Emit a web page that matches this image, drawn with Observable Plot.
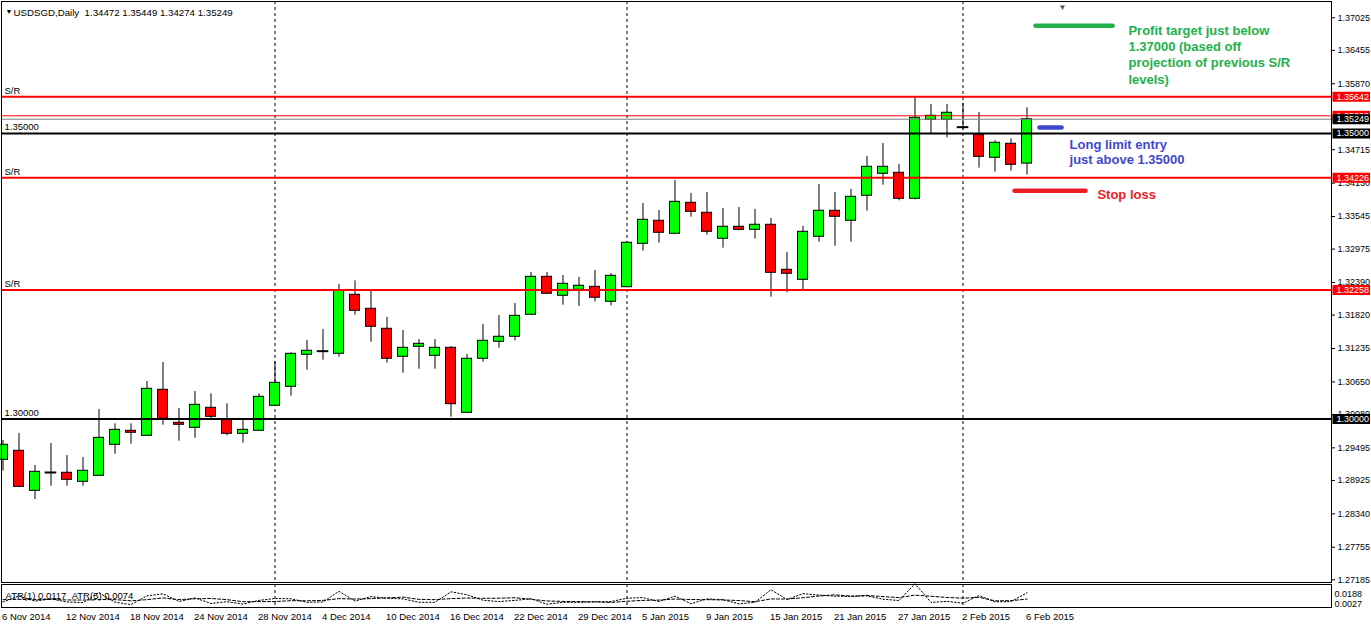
<!DOCTYPE html>
<html><head><meta charset="utf-8">
<script src="https://cdn.jsdelivr.net/npm/d3@7"></script>
<script src="https://cdn.jsdelivr.net/npm/@observablehq/plot@0.6"></script>
<style>
html,body{margin:0;padding:0;background:#fff;}
#wrap{position:relative;width:1371px;height:626px;overflow:hidden;background:#fff;}
#main{position:absolute;left:0;top:0;}
#atr{position:absolute;left:0;top:583px;}
svg{font-family:"Liberation Sans",Arial,sans-serif;}
</style></head><body><div id="wrap"><div id="main"></div><div id="atr"></div></div>
<script>
// ---- data (USDSGD daily, 6 Nov 2014 - 6 Feb 2015) ----
const opens = [1.29286,1.29444,1.28743,1.29064,1.29059,1.28901,1.29006,1.29549,1.29794,1.29706,
1.30512,1.29934,1.29846,1.30197,1.29987,1.29741,1.29794,1.30232,1.30564,1.31125,
1.31188,1.31142,1.32175,1.31930,1.31580,1.31090,1.31265,1.31107,1.31247,1.30109,
1.31055,1.31352,1.31440,1.31825,1.32490,1.32158,1.32263,1.32315,1.32053,1.32308,
1.33068,1.33471,1.33243,1.33786,1.33611,1.33156,1.33366,1.33313,1.33401,1.32613,
1.32438,1.33191,1.33646,1.33471,1.33909,1.34294,1.34311,1.33856,1.35239,1.35239,
1.35110,1.34977,1.34574,1.34819,1.34472];
const highs = [1.29624,1.29747,1.29186,1.29572,1.29361,1.29326,1.30167,1.29916,1.29916,1.30657,
1.30990,1.30184,1.30482,1.30442,1.30267,1.29980,1.30442,1.31007,1.31160,1.31375,
1.31568,1.32355,1.32420,1.32250,1.31778,1.31550,1.31392,1.31392,1.31270,1.31130,
1.31655,1.31813,1.32023,1.32566,1.32566,1.32513,1.32478,1.32601,1.32548,1.33103,
1.33774,1.33651,1.34176,1.33949,1.33966,1.33686,1.33704,1.33669,1.33511,1.32916,
1.33371,1.34106,1.33966,1.34019,1.34597,1.34824,1.34457,1.35624,1.35507,1.35507,
1.35525,1.35367,1.34872,1.34907,1.35449];
const lows = [1.29087,1.28800,1.28591,1.28824,1.28824,1.28824,1.29000,1.29384,1.29559,1.29700,
1.29892,1.29612,1.29664,1.30004,1.29706,1.29577,1.29790,1.30225,1.30400,1.30855,
1.31030,1.31083,1.31818,1.31345,1.30978,1.30802,1.30872,1.30872,1.30032,1.30100,
1.30995,1.31240,1.31370,1.31820,1.32180,1.31993,1.31970,1.32053,1.31983,1.32300,
1.32939,1.33079,1.33235,1.33534,1.33219,1.32991,1.33296,1.33149,1.32133,1.32210,
1.32263,1.33096,1.33026,1.33096,1.33639,1.34094,1.33821,1.33838,1.34994,1.34924,
1.35064,1.34392,1.34322,1.34339,1.34274];
const closes = [1.29549,1.28813,1.29076,1.29064,1.28936,1.29094,1.29671,1.29811,1.29759,1.30529,
1.30004,1.29899,1.30249,1.30039,1.29741,1.29811,1.30389,1.30634,1.31142,1.31195,
1.31188,1.32250,1.31895,1.31615,1.31055,1.31247,1.31317,1.31247,1.30260,1.31055,
1.31370,1.31440,1.31807,1.32490,1.32193,1.32368,1.32333,1.32123,1.32508,1.33086,
1.33488,1.33261,1.33803,1.33628,1.33278,1.33366,1.33313,1.33401,1.32560,1.32543,
1.33278,1.33646,1.33541,1.33891,1.34416,1.34416,1.33856,1.35274,1.35309,1.35362,
1.35110,1.34591,1.34837,1.34451,1.35249];
const atr1 = [0.0054,0.0095,0.0060,0.0075,0.0054,0.0050,0.0117,0.0053,0.0036,0.0096,
0.0110,0.0057,0.0082,0.0044,0.0056,0.0040,0.0065,0.0078,0.0076,0.0052,
0.0054,0.0127,0.0060,0.0091,0.0080,0.0075,0.0052,0.0052,0.0124,0.0103,
0.0066,0.0057,0.0065,0.0076,0.0039,0.0052,0.0051,0.0055,0.0057,0.0080,
0.0084,0.0057,0.0094,0.0042,0.0075,0.0070,0.0041,0.0052,0.0138,0.0071,
0.0111,0.0101,0.0094,0.0092,0.0096,0.0073,0.0064,0.0179,0.0051,0.0058,
0.0046,0.0098,0.0055,0.0057,0.0117];
const atr5 = [0.0070,0.0072,0.0070,0.0072,0.0068,0.0067,0.0071,0.0070,0.0062,0.0070,
0.0082,0.0070,0.0076,0.0078,0.0070,0.0056,0.0057,0.0057,0.0063,0.0062,
0.0065,0.0077,0.0074,0.0077,0.0082,0.0087,0.0072,0.0070,0.0077,0.0081,
0.0079,0.0080,0.0083,0.0073,0.0061,0.0058,0.0057,0.0055,0.0051,0.0059,
0.0065,0.0067,0.0074,0.0071,0.0070,0.0068,0.0064,0.0056,0.0075,0.0074,
0.0083,0.0095,0.0103,0.0094,0.0099,0.0091,0.0084,0.0101,0.0093,0.0085,
0.0080,0.0086,0.0062,0.0063,0.0074];
const dateTickIdx = [0,4,8,12,16,20,24,28,32,36,40,44,48,52,56,60,64];
const dateTickLabels = ["6 Nov 2014","12 Nov 2014","18 Nov 2014","24 Nov 2014","28 Nov 2014","4 Dec 2014",
"10 Dec 2014","16 Dec 2014","22 Dec 2014","29 Dec 2014","5 Jan 2015","9 Jan 2015","15 Jan 2015",
"21 Jan 2015","27 Jan 2015","2 Feb 2015","6 Feb 2015"];
const separatorIdx = [17,39,60];            // 1 Dec, 2 Jan, 2 Feb
const priceTicks = [1.37025,1.36455,1.35870,1.34715,1.34130,1.33545,1.32975,1.32390,
1.31820,1.31235,1.30650,1.30080,1.29495,1.28925,1.28340,1.27755,1.27185];
const srLevels = [1.35642,1.34226,1.32258];
const roundLevels = [1.35000,1.30000];
const askPrice = 1.35309, bidPrice = 1.35249;
const header = {symbol:"USDSGD,Daily", o:"1.34472", h:"1.35449", l:"1.34274", c:"1.35249"};
const atrHeader = "ATR(1) 0.0117\u00a0\u00a0ATR(5) 0.0074";
const atrScale = ["0.0188","0.0027"];
const notes = [
  {text:"Profit target just below\n1.37000 (based off\nprojection of previous S/R\nlevels)", color:"#22b14c",
   level:1.36885, from:64.56, to:69.38, tx:70.34, ty:1.36920, lh:1.24},
  {text:"Long limit entry\njust above 1.35000", color:"#3f48cc",
   level:1.35104, from:64.81, to:66.19, tx:66.66, ty:1.34924, lh:1.16},
  {text:"Stop loss", color:"#ed1c24",
   level:1.33996, from:63.25, to:67.69, tx:68.40, ty:1.34049, lh:1.2}
];

// ---- build ----
const bars = opens.map((o,i)=>({i, o, h:highs[i], l:lows[i], c:closes[i]}));
const up = bars.filter(d=>d.c>d.o), down = bars.filter(d=>d.c<d.o), doji = bars.filter(d=>d.c===d.o);
const half = 0.3125;
const xDomain = [-0.09375, 83.03125];
const boxX1 = 83.125, boxX2 = 85.47, boxTx = 83.34;
const FONT = "'Liberation Sans', Arial, sans-serif";

function box(v, color){
  return [
    Plot.ruleY([v], {y:d=>d, x1:()=>boxX1, x2:()=>boxX2, stroke:color, strokeWidth:10}),
    Plot.text([v], {y:d=>d, x:()=>boxTx, text:d=>d.toFixed(5), textAnchor:"start", fill:"white", fontSize:9})
  ];
}

const main = Plot.plot({
  width:1371, height:586,
  marginLeft:1, marginRight:40, marginTop:1, marginBottom:4,
  x:{domain:xDomain, axis:null},
  y:{domain:[1.27138,1.37310], axis:null},
  style:{fontFamily:FONT, background:"white", color:"black"},
  marks:[
    Plot.ruleX(separatorIdx, {x:d=>d, stroke:"black", strokeDasharray:"3,3", strokeWidth:1}),
    Plot.ruleX(bars, {x:"i", y1:"l", y2:"h", stroke:"black", strokeWidth:1}),
    Plot.rect(up, {x1:d=>d.i-half, x2:d=>d.i+half, y1:"o", y2:"c", fill:"#00ff00", stroke:"black", strokeWidth:1}),
    Plot.rect(down, {x1:d=>d.i-half, x2:d=>d.i+half, y1:"o", y2:"c", fill:"#ff0000", stroke:"black", strokeWidth:1}),
    Plot.ruleY(doji, {y:"o", x1:d=>d.i-half-0.05, x2:d=>d.i+half+0.05, stroke:"black", strokeWidth:2}),
    Plot.ruleY(srLevels, {y:d=>d, stroke:"#ff0000", strokeWidth:2}),
    Plot.ruleY(roundLevels, {y:d=>d, stroke:"black", strokeWidth:2}),
    Plot.ruleY([askPrice], {y:d=>d, stroke:"#ff0000", strokeWidth:1}),
    Plot.ruleY([bidPrice], {y:d=>d, stroke:"#808080", strokeWidth:1}),
    Plot.text(srLevels, {y:d=>d, text:()=>"S/R", frameAnchor:"left", dx:3, dy:-6, textAnchor:"start", fontSize:9.5, fill:"black"}),
    Plot.text(roundLevels, {y:d=>d, text:d=>d.toFixed(5), frameAnchor:"left", dx:3, dy:-6, textAnchor:"start", fontSize:9.5, fill:"black"}),
    Plot.frame({stroke:"black", strokeWidth:1}),
    Plot.axisY({anchor:"right", ticks:priceTicks, tickFormat:d=>d.toFixed(5), tickSize:3, tickPadding:3, fontSize:9, label:null}),
    ...box(srLevels[0], "#ff0000"),
    ...box(srLevels[1], "#ff0000"),
    ...box(srLevels[2], "#ff0000"),
    ...box(askPrice, "#ff0000"),
    ...box(bidPrice, "black"),
    ...box(roundLevels[0], "black"),
    ...box(roundLevels[1], "black"),
    ...notes.map(n=>Plot.ruleY([n], {y:"level", x1:"from", x2:"to", stroke:n.color, strokeWidth:4.5, strokeLinecap:"round"})),
    ...notes.map(n=>Plot.text([n], {x:"tx", y:"ty", text:"text", textAnchor:"start", lineAnchor:"top", lineHeight:n.lh, fill:n.color, fontSize:13, fontWeight:"bold"})),
    Plot.text([66.22], {x:d=>d, text:()=>"\u25BC", frameAnchor:"top", dy:3, fontSize:8, fill:"#555"}),
    Plot.text(["\u25BC"], {frameAnchor:"top-left", dx:4, dy:8, textAnchor:"start", fontSize:7, fill:"black"}),
    Plot.text([`${header.symbol}\u00a0\u00a0${header.o} ${header.h} ${header.l} ${header.c}`], {frameAnchor:"top-left", dx:12, dy:8, textAnchor:"start", fontSize:9.7, fill:"black"})
  ]
});
document.getElementById("main").appendChild(main);

const atrData = atr1.map((a,i)=>({i, a1:a, a5:atr5[i]}));
const atrPlot = Plot.plot({
  width:1371, height:43,
  marginLeft:1, marginRight:40, marginTop:1, marginBottom:19,
  x:{domain:xDomain, axis:null},
  y:{domain:[0.0030,0.0160], range:[22,3], axis:null},
  style:{fontFamily:FONT, background:"none", color:"black"},
  marks:[
    Plot.ruleX(separatorIdx, {x:d=>d, stroke:"black", strokeDasharray:"3,3", strokeWidth:1}),
    Plot.line(atrData, {x:"i", y:"a5", stroke:"black", strokeWidth:1, strokeDasharray:"3,2"}),
    Plot.line(atrData, {x:"i", y:"a1", stroke:"black", strokeWidth:1, strokeDasharray:"1.5,2"}),
    Plot.frame({stroke:"black", strokeWidth:1}),
    Plot.text([atrHeader], {frameAnchor:"top-left", dx:4, dy:8, textAnchor:"start", fontSize:9.5, fill:"black"}),
    Plot.text([atrScale[0]], {frameAnchor:"top-right", dx:3, dy:6.5, textAnchor:"start", fontSize:9, fill:"black"}),
    Plot.text([atrScale[1]], {frameAnchor:"top-right", dx:3, dy:16.5, textAnchor:"start", fontSize:9, fill:"black"}),
    Plot.text(dateTickIdx, {x:d=>d, text:(d,i)=>dateTickLabels[i], frameAnchor:"bottom", dy:12, dx:-1, textAnchor:"start", fontSize:9.5, fill:"black"})
  ]
});
document.getElementById("atr").appendChild(atrPlot);
</script></body></html>
